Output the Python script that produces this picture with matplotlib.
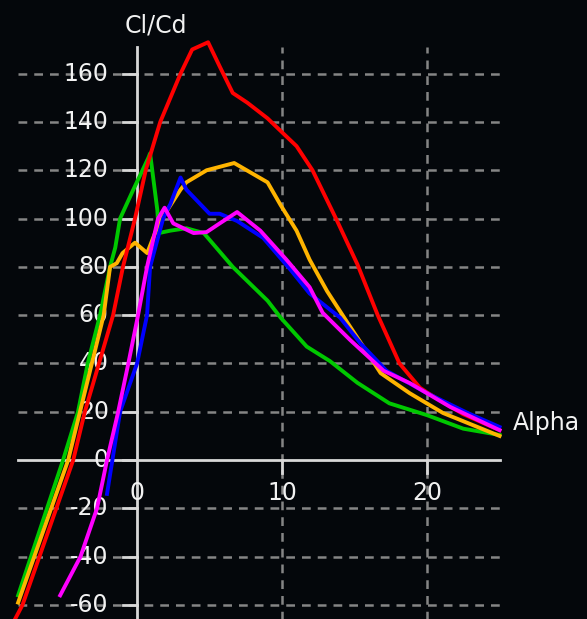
import matplotlib
matplotlib.use("Agg")
import matplotlib.pyplot as plt
import numpy as np

# polar curves (alpha in deg, Cl/Cd)
red_alpha = [-8.6, -7.9, -4.4, -3.6, -1.65, -0.97, -0.14, 0.6, 1.6, 3.0, 3.8, 4.9,
             5.7, 6.6, 7.6, 9.0, 10.3, 11.0, 12.1, 13.8, 15.2, 16.6, 18.1, 19.5, 20.0, 22.5, 25.0]
red_clcd = [-68, -60, 0, 20, 60, 80, 100, 120, 140, 160, 170, 173,
            163, 152, 148, 141.5, 134, 130, 120, 99, 81, 60, 40, 30, 28, 19, 12.4]

green_alpha = [-8.2, -5.1, -4.07, -3.4, -2.55, -1.86, -1.5, -1.17, -0.27, 0.77, 0.9, 1.4, 1.5,
               2.3, 3.4, 4.6, 6.6, 9.0, 9.9, 11.7, 13.3, 15.2, 17.4, 20.0, 22.5, 25.0]
green_clcd = [-56, 0, 20, 40, 60, 80, 88, 100, 111.8, 125, 127, 103.5, 94,
              95, 96, 94, 80, 66, 59, 47, 41, 32, 23.5, 18.6, 13, 10.4]

orange_alpha = [-8.2, -4.75, -2.3, -1.86, -1.4, -1.0, -0.14, 0.7, 1.5, 3.0, 3.4, 4.8, 6.7,
                9.0, 9.9, 11.0, 11.9, 13.1, 14.5, 15.6, 16.8, 18.8, 21.1, 25.0]
orange_clcd = [-59, 0, 60, 80, 81.5, 85.7, 90, 85.7, 98, 112, 115, 120, 123,
               115, 105.6, 95, 83, 70, 57, 47, 36, 27.7, 19.5, 10]

blue_alpha = [-2.07, -1.7, -1.17, 0.0, 0.69, 0.9, 1.8, 2.3, 3.0, 3.4, 5.0, 5.7, 6.9,
              8.7, 10.6, 11.9, 14.0, 15.4, 17.2, 20.0, 22.8, 25.0]
blue_clcd = [-14, 0, 20, 40, 60, 80, 100, 106, 117, 112, 102, 102, 99,
             92, 78.7, 69, 59, 48.4, 37, 27.7, 19.5, 13.7]

magenta_alpha = [-5.3, -3.9, -2.76, -2.07, -1.3, -0.6, 0.07, 0.69, 1.45, 1.9, 2.5, 3.9, 4.8,
                 5.7, 6.9, 8.5, 10.3, 11.9, 12.8, 14.7, 17.0, 18.8, 21.6, 25.0]
magenta_clcd = [-56, -40, -20, 0, 20, 40, 60, 80, 100, 104.5, 98, 94, 94.4,
                98, 102.7, 95, 83, 71.6, 61, 49.7, 37, 31.9, 22, 12.4]

y_ticks = [-60, -40, -20, 20, 40, 60, 80, 100, 120, 140, 160]
x_ticks = [0, 10, 20]

BG = "#04070b"
GRID = "#858585"
AXIS = "#d8d8d8"
TXT = "#f2f2f2"

fig = plt.figure(figsize=(5.87, 6.19), dpi=100, facecolor=BG)
ax = fig.add_axes([0, 0, 1, 1])
ax.set_facecolor(BG)
ax.set_xlim(-9.45, 31.03)
ax.set_ylim(-65.8, 190.5)
ax.axis("off")

x_left, x_right = -8.2, 25.0
y_top = 171

# dashed grid
for y in y_ticks:
    ax.plot([x_left, x_right], [y, y], color=GRID, lw=1.8, ls=(0, (3.5, 2.8)), zorder=1)
for x in [10, 20]:
    ax.plot([x, x], [-70, y_top], color=GRID, lw=1.8, ls=(0, (3.5, 2.8)), zorder=1)

# axes through the origin
ax.plot([x_left, x_right], [0, 0], color=AXIS, lw=2, zorder=2)
ax.plot([0, 0], [-70, y_top], color=AXIS, lw=2, zorder=2)
for y in y_ticks + [0]:
    ax.plot([-1.0, 0], [y, y], color=AXIS, lw=2, zorder=2)
for x in [10, 20]:
    ax.plot([x, x], [0, -5.2], color=AXIS, lw=2, zorder=2)

# tick labels
for y in y_ticks + [0]:
    ax.text(-1.95, y, str(y), color=TXT, fontsize=17, ha="right", va="center", zorder=3)
for x in x_ticks:
    ax.text(x, -13.7, str(x), color=TXT, fontsize=17, ha="center", va="center", zorder=3)

ax.text(1.3, 180, "Cl/Cd", color=TXT, fontsize=17, ha="center", va="center")
ax.text(25.9, 15.3, "Alpha", color=TXT, fontsize=17, ha="left", va="center")

lw = 2.8
ax.plot(green_alpha, green_clcd, color="#00c800", lw=lw, zorder=4)
ax.plot(orange_alpha, orange_clcd, color="#ffb400", lw=lw, zorder=5)
ax.plot(red_alpha, red_clcd, color="#ff0000", lw=lw, zorder=6)
ax.plot(blue_alpha, blue_clcd, color="#0000ff", lw=lw, zorder=7)
ax.plot(magenta_alpha, magenta_clcd, color="#ff00ff", lw=lw, zorder=8)

fig.savefig("out.png", dpi=100, facecolor=BG)
